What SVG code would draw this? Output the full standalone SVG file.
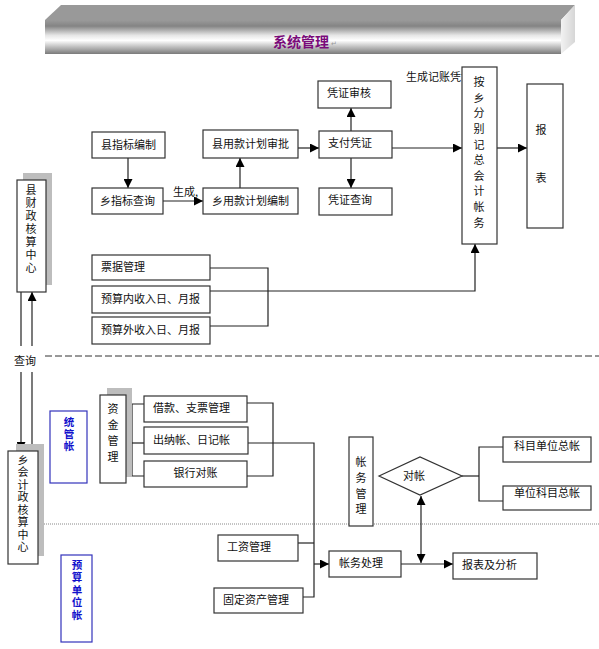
<svg xmlns="http://www.w3.org/2000/svg" width="599" height="649" viewBox="0 0 599 649">
<style>
.box{fill:#fff;stroke:#333;stroke-width:1.2}
.bbox{fill:#fff;stroke:#3333bb;stroke-width:1.2}
.sh{fill:#bdbdbd;stroke:none}
.t{font-family:"Noto Sans CJK SC","Noto Sans",sans-serif;font-size:11px;fill:#111}
.tc{text-anchor:middle}
.v{writing-mode:vertical-rl;text-orientation:upright}
.bt{font-family:"Noto Sans CJK SC","Noto Sans",sans-serif;font-size:10.5px;font-weight:bold;fill:#1010cc}
.ln{fill:none;stroke:#222;stroke-width:1.2}
</style>
<defs>
<linearGradient id="front" x1="0" y1="0" x2="0" y2="1">
<stop offset="0" stop-color="#9a9a9a"/>
<stop offset="0.18" stop-color="#848484"/>
<stop offset="0.45" stop-color="#e6e6e6"/>
<stop offset="0.6" stop-color="#ffffff"/>
<stop offset="0.8" stop-color="#bcbcbc"/>
<stop offset="1" stop-color="#7a7a7a"/>
</linearGradient>
<linearGradient id="side" x1="0" y1="0" x2="1" y2="0">
<stop offset="0" stop-color="#f2f2f2"/>
<stop offset="1" stop-color="#d6d6d6"/>
</linearGradient>
<marker id="ah" viewBox="0 0 10 10" refX="10" refY="5" markerWidth="9" markerHeight="9" markerUnits="userSpaceOnUse" orient="auto-start-reverse">
<path d="M0,0 L10,5 L0,10 z" fill="#000"/>
</marker>
</defs>
<rect width="599" height="649" fill="#fff"/>

<g id="banner">
<polygon points="45,20 61,5 575,5 561,20" fill="#999"/>
<polygon points="561,20 575,5 575,42 561,54" fill="url(#side)"/>
<rect x="45" y="20" width="516" height="34" fill="url(#front)"/>
<text x="273" y="47" font-family="Noto Sans CJK SC,sans-serif" font-size="14" font-weight="bold" fill="#7a0a7a">系统管理</text>
<text x="331" y="46" font-family="DejaVu Sans,sans-serif" font-size="7" fill="#999">↵</text>
</g>

<g id="connectors">
<line class="ln" x1="128" y1="158" x2="128" y2="188" marker-end="url(#ah)"/>
<line class="ln" x1="163" y1="201" x2="203" y2="201" marker-end="url(#ah)"/>
<line class="ln" x1="240" y1="188" x2="240" y2="158" marker-end="url(#ah)"/>
<line class="ln" x1="298" y1="148" x2="319" y2="148" marker-end="url(#ah)"/>
<line class="ln" x1="351" y1="131" x2="351" y2="108" marker-end="url(#ah)"/>
<line class="ln" x1="351" y1="158" x2="351" y2="188" marker-end="url(#ah)"/>
<line class="ln" x1="392" y1="148" x2="462" y2="148" marker-end="url(#ah)"/>
<line class="ln" x1="497" y1="148" x2="527" y2="148" marker-end="url(#ah)"/>
<polyline class="ln" points="210,268 268,268 268,326 210,326"/>
<polyline class="ln" points="210,291 475,291 475,244" marker-end="url(#ah)"/>
<line class="ln" x1="21" y1="292" x2="21" y2="346"/>
<line class="ln" x1="21" y1="372" x2="21" y2="451" marker-end="url(#ah)"/>
<line class="ln" x1="32" y1="446" x2="32" y2="372"/>
<line class="ln" x1="32" y1="346" x2="32" y2="292" marker-end="url(#ah)"/>
<line x1="45" y1="356" x2="599" y2="356" stroke="#333" stroke-width="1" stroke-dasharray="7,3"/>
<line x1="38" y1="524" x2="599" y2="524" stroke="#888" stroke-width="1" stroke-dasharray="1,1"/>
<polyline class="ln" points="126,443 144,443"/>
<polyline class="ln" points="144,404 132,404 132,476 144,476"/>
<polyline class="ln" points="247,403 273,403 273,476 247,476"/>
<polyline class="ln" points="248,443 314,443 314,597 303,597"/>
<line class="ln" x1="298" y1="543" x2="314" y2="543"/>
<line class="ln" x1="314" y1="564" x2="329" y2="564" marker-end="url(#ah)"/>
<line class="ln" x1="401" y1="564" x2="453" y2="564" marker-end="url(#ah)"/>
<line class="ln" x1="421" y1="496" x2="421" y2="563" marker-start="url(#ah)" marker-end="url(#ah)"/>
<line class="ln" x1="462" y1="476" x2="479" y2="476"/>
<polyline class="ln" points="503,447 479,447 479,501 503,501"/>
<text x="173" y="196" class="t" font-size="9">生成,</text>
<text x="14" y="365" class="t" font-size="12">查询</text>
<text x="406" y="81" class="t">生成记账凭证</text>
</g>

<g id="n-xianzhibiao"><rect class="box" x="92" y="132" width="73" height="26"/><text class="t tc" x="128.5" y="149">县指标编制</text></g>
<g id="n-xiangzhibiao"><rect class="box" x="92" y="188" width="71" height="26"/><text class="t tc" x="127.5" y="205">乡指标查询</text></g>
<g id="n-shenpi"><rect class="box" x="203" y="130" width="95" height="28"/><text class="t tc" x="250.5" y="148">县用款计划审批</text></g>
<g id="n-bianzhi"><rect class="box" x="203" y="188" width="95" height="26"/><text class="t tc" x="250.5" y="205">乡用款计划编制</text></g>
<g id="n-shenhe"><rect class="box" x="318" y="81" width="73" height="27"/><text class="t" x="327" y="97">凭证审核</text></g>
<g id="n-zhifu"><rect class="box" x="319" y="131" width="73" height="27"/><text class="t" x="328" y="147">支付凭证</text></g>
<g id="n-chaxun"><rect class="box" x="319" y="188" width="73" height="27"/><text class="t" x="328" y="204">凭证查询</text></g>
<g id="n-zongzhang"><rect class="box" x="462" y="67" width="35" height="177"/>
<text class="t v" x="479" y="76.5" letter-spacing="4.6">按乡分别记总会计帐务</text></g>
<g id="n-baobiao"><rect class="box" x="527" y="84" width="36" height="144"/><text class="t v" x="541" y="124.5" letter-spacing="37">报表</text></g>
<g id="n-piaoju"><rect class="box" x="92" y="255" width="118" height="25"/><text class="t" x="101" y="271">票据管理</text></g>
<g id="n-yusuannei"><rect class="box" x="92" y="286" width="118" height="27"/><text class="t" x="101" y="303">预算内收入日、月报</text></g>
<g id="n-yusuanwai"><rect class="box" x="92" y="317" width="118" height="27"/><text class="t" x="101" y="334">预算外收入日、月报</text></g>
<g id="n-xiancaizheng"><rect class="sh" x="23" y="173" width="29" height="112"/><rect class="box" x="17" y="180" width="29" height="112"/>
<text class="t v" font-size="10.5" x="31" y="184.75" letter-spacing="2">县财政核算中心</text></g>
<g id="n-xiangkuaiji"><rect class="sh" x="16" y="444" width="28" height="112"/><rect class="box" x="8" y="451" width="30" height="113"/>
<text class="t v" font-size="11.5" x="23" y="454" letter-spacing="1.5">乡会计政核算中心</text></g>
<g id="n-tongguan"><rect class="bbox" x="50" y="411" width="37" height="72"/><text class="bt v" x="69" y="416.75" letter-spacing="1.5">统管帐</text></g>
<g id="n-yusuandanwei"><rect class="bbox" x="61" y="555" width="31" height="87"/><text class="bt v" x="77" y="559.75" letter-spacing="2">预算单位帐</text></g>
<g id="n-zijin"><rect class="sh" x="107" y="388" width="25" height="89"/><rect class="box" x="100" y="395" width="26" height="88"/>
<text class="t v" x="113" y="403.5" letter-spacing="5">资金管理</text></g>
<g id="n-jiekuan"><rect class="box" x="144" y="396" width="103" height="26"/><text class="t" x="153" y="412">借款、支票管理</text></g>
<g id="n-chuna"><rect class="box" x="144" y="427" width="104" height="27"/><text class="t" x="153" y="444">出纳帐、日记帐</text></g>
<g id="n-yinhang"><rect class="box" x="144" y="461" width="103" height="26"/><text class="t tc" x="195.5" y="477">银行对账</text></g>
<g id="n-gongzi"><rect class="box" x="218" y="535" width="80" height="26"/><text class="t" x="227" y="551">工资管理</text></g>
<g id="n-guding"><rect class="box" x="214" y="588" width="89" height="25"/><text class="t" x="223" y="604">固定资产管理</text></g>
<g id="n-zhangwuguanli"><rect class="box" x="349" y="437" width="24" height="89"/>
<text class="t v" x="361" y="456.5" letter-spacing="4.7">帐务管理</text></g>
<g id="n-duizhang"><polygon class="box" points="379,476 420,457 462,476 420,495"/><text class="t" x="403" y="480">对帐</text></g>
<g id="n-kemudanwei"><rect class="box" x="503" y="437" width="88" height="25"/><text class="t" x="514" y="450">科目单位总帐</text></g>
<g id="n-danweikemu"><rect class="box" x="503" y="486" width="88" height="24"/><text class="t" x="514" y="497">单位科目总帐</text></g>
<g id="n-zhangwuchuli"><rect class="box" x="329" y="551" width="72" height="26"/><text class="t" x="339" y="567">帐务处理</text></g>
<g id="n-baobiaofenxi"><rect class="box" x="453" y="553" width="84" height="26"/><text class="t" x="462" y="569">报表及分析</text></g>
</svg>
